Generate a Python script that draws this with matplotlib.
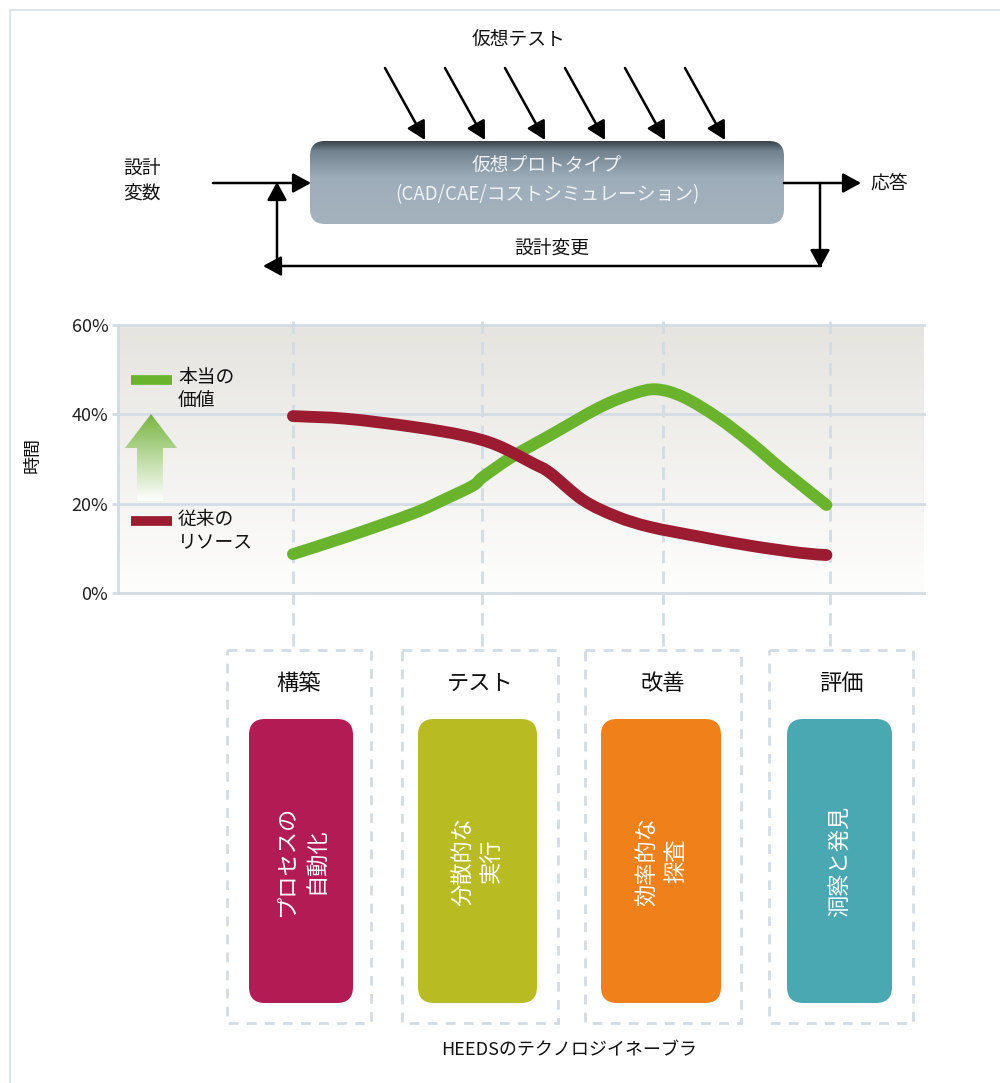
import numpy as np
import matplotlib
matplotlib.use('Agg')
import matplotlib.pyplot as plt
from matplotlib.patches import FancyBboxPatch, Polygon, Rectangle, PathPatch
from matplotlib.path import Path

plt.rcParams['font.family'] = ['Noto Sans CJK JP', 'DejaVu Sans']

# ---------------- data ----------------
stage_progress = [21.7, 45.2, 67.6, 88.3]          # progress (%) where each stage sits
value_progress = [21.7, 28.4, 36.6, 40.8, 44.1, 45.3, 49.0, 53.6, 59.8, 63.9, 66.8, 70.1, 74.3, 78.4, 82.5, 87.9]
value_pct      = [8.7, 12.6, 17.8, 21.2, 24.1, 26.0, 30.6, 35.3, 41.6, 44.6, 45.6, 43.9, 39.4, 33.8, 27.5, 19.7]
resource_progress = [21.7, 28.4, 36.6, 42.8, 47.0, 51.5, 53.6, 57.7, 61.9, 66.0, 72.2, 78.4, 84.6, 87.9]
resource_pct      = [39.6, 39.0, 37.2, 35.3, 33.1, 29.0, 26.9, 20.8, 17.1, 14.8, 12.6, 10.6, 9.0, 8.5]
y_ticks = [0, 20, 40, 60]
y_tick_labels = ['0%', '20%', '40%', '60%']
series_names = ['本当の\n価値', '従来の\nリソース']
stage_names = ['構築', 'テスト', '改善', '評価']
stage_texts = ['プロセスの\n自動化', '分散的な\n実行', '効率的な\n探査', '洞察と発見']

# ---------------- style ----------------
GREEN = '#6ab42d'
RED = '#9b1b30'
GRID = '#d3dce5'
stage_colors = ['#b31b54', '#b8bb22', '#f08019', '#49a8b2']

W, H = 1000, 1083
fig = plt.figure(figsize=(W / 100, H / 100), dpi=100)
ov = fig.add_axes([0, 0, 1, 1])
ov.axis('off')

# frame border
ov.plot([10, 10], [10, H], color='#dde4ea', lw=1.5)
ov.plot([10, W], [10, 10], color='#dde4ea', lw=1.5)

# ---------------- top diagram ----------------
ov.text(519, 40, '仮想テスト', ha='center', va='center', fontsize=13.5, color='#111')
arrow_kw = dict(arrowstyle='-|>,head_length=0.55,head_width=0.3', lw=1.8, color='black',
                shrinkA=0, shrinkB=0, mutation_scale=20)
for i in range(6):
    x0 = 385 + 60 * i
    ov.annotate('', xy=(x0 + 40, 140), xytext=(x0, 68), arrowprops=arrow_kw)

box = FancyBboxPatch((310, 141), 474, 83, boxstyle='round,pad=0,rounding_size=15',
                     facecolor='none', edgecolor='none')
ov.add_patch(box)
t = np.linspace(0, 1, 256)
stops_t = [0.0, 0.12, 0.45, 1.0]
stops_c = np.array([[0.22, 0.26, 0.29], [0.45, 0.51, 0.56], [0.62, 0.68, 0.73], [0.64, 0.70, 0.74]])
gcol = np.stack([np.interp(t, stops_t, stops_c[:, k]) for k in range(3)], axis=-1)[:, None, :]
im = ov.imshow(gcol, extent=[310, 784, 224, 141], origin='upper', aspect='auto', zorder=2)
im.set_clip_path(box)
ov.text(547, 181, '仮想プロトタイプ\n(CAD/CAE/コストシミュレーション)', ha='center', va='center',
        fontsize=13.5, color='#eef2f5', linespacing=1.45, zorder=3)

ov.text(123, 181, '設計\n変数', ha='left', va='center', fontsize=13.5, linespacing=1.3, color='#111')
ov.annotate('', xy=(311, 183), xytext=(213, 183), arrowprops=arrow_kw)
ov.annotate('', xy=(861, 183), xytext=(784, 183), arrowprops=arrow_kw)
ov.text(870, 183, '応答', ha='left', va='center', fontsize=13.5, color='#111')
ov.annotate('', xy=(820, 268), xytext=(820, 183), arrowprops=arrow_kw)
ov.annotate('', xy=(263, 266), xytext=(821, 266), arrowprops=arrow_kw)
ov.annotate('', xy=(277, 182), xytext=(277, 266), arrowprops=arrow_kw)
ov.text(552, 248, '設計変更', ha='center', va='center', fontsize=13.5, color='#111')

# ---------------- bottom stage boxes ----------------
outer = [(227, 371), (402, 558), (585, 741), (769, 913)]
inner = [(249, 353), (418, 537), (601, 721), (787, 892)]
for i in range(4):
    x0, x1 = outer[i]
    ov.add_patch(Rectangle((x0, 650), x1 - x0, 373, facecolor='none', edgecolor=GRID, lw=2,
                           linestyle=(0, (3.5, 3))))
    ov.text((x0 + x1) / 2, 683, stage_names[i], ha='center', va='center', fontsize=16, color='#111')
    a0, a1 = inner[i]
    ov.add_patch(FancyBboxPatch((a0, 719), a1 - a0, 284, boxstyle='round,pad=0,rounding_size=16',
                                facecolor=stage_colors[i], edgecolor='none'))
    ov.text((a0 + a1) / 2, 861, stage_texts[i], rotation=90, ha='center', va='center',
            multialignment='center', fontsize=16, color='white', linespacing=1.35)
ov.text(569, 1050, 'HEEDSのテクノロジイネーブラ', ha='center', va='center', fontsize=13, color='#111')

ov.set_xlim(0, W)
ov.set_ylim(H, 0)

# ---------------- line chart ----------------
ax = fig.add_axes([118 / W, 1 - 593 / H, (924 - 118) / W, (593 - 325) / H])
tt = np.linspace(0, 1, 256)[:, None, None]
btop = np.array([0.898, 0.894, 0.875]); bbot = np.array([0.995, 0.995, 0.992])
ax.imshow(btop * (1 - tt) + bbot * tt, extent=[0, 100, 0, 60], origin='upper', aspect='auto', zorder=0)
ax.set_xlim(0, 100)
ax.set_ylim(0, 60)
for v in y_ticks:
    ax.axhline(v, color=GRID, lw=2, zorder=1, clip_on=False)
for s in stage_progress:
    ax.plot([s, s], [61, -12.3], color=GRID, lw=2, linestyle=(0, (4.5, 3)), clip_on=False, zorder=1)


def spline_path(xs, ys):
    pts = np.column_stack([xs, ys]).astype(float)
    verts = [pts[0]]
    codes = [Path.MOVETO]
    n = len(pts)
    for i in range(n - 1):
        p0 = pts[i - 1] if i > 0 else pts[i]
        p1, p2 = pts[i], pts[i + 1]
        p3 = pts[i + 2] if i + 2 < n else pts[i + 1]
        verts += [p1 + (p2 - p0) / 6, p2 - (p3 - p1) / 6, p2]
        codes += [Path.CURVE4] * 3
    return Path(verts, codes)


ax.add_patch(PathPatch(spline_path(value_progress, value_pct), fill=False, edgecolor=GREEN,
                       lw=8.5, capstyle='round', joinstyle='round', zorder=3))
ax.add_patch(PathPatch(spline_path(resource_progress, resource_pct), fill=False, edgecolor=RED,
                       lw=8.5, capstyle='round', joinstyle='round', zorder=4))
for side in ['top', 'right', 'bottom']:
    ax.spines[side].set_visible(False)
ax.spines['left'].set_color(GRID)
ax.spines['left'].set_linewidth(2)
ax.set_xticks([])
ax.set_yticks(y_ticks)
ax.set_yticklabels(y_tick_labels)
ax.tick_params(axis='y', length=4, width=2, color=GRID, labelsize=13, labelcolor='#222', pad=3)

# ---------------- overlay for legend / arrow on top of chart ----------------
top = fig.add_axes([0, 0, 1, 1])
top.patch.set_alpha(0)
top.axis('off')
top.plot([131, 172], [380, 380], color=GREEN, lw=7, solid_capstyle='butt')
top.text(178, 389, series_names[0], ha='left', va='center', fontsize=13.5, linespacing=1.15, color='#111')
top.plot([131, 172], [521, 521], color=RED, lw=7, solid_capstyle='butt')
top.text(178, 531, series_names[1], ha='left', va='center', fontsize=13.5, linespacing=1.15, color='#111')
top.text(33, 455, '時間', rotation=90, ha='center', va='center', fontsize=13, color='#111')

arrow_pts = [(137, 501), (163, 501), (163, 448), (177, 448), (151, 414), (125, 448), (137, 448)]
poly = Polygon(arrow_pts, closed=True, facecolor='none', edgecolor='none')
top.add_patch(poly)
g = np.linspace(0, 1, 128)[:, None, None]
ctop = np.array([0.47, 0.71, 0.26]); cbot = np.array([1.0, 1.0, 1.0])
im2 = top.imshow(ctop * (1 - g) + cbot * g, extent=[125, 177, 501, 414], origin='upper',
                 aspect='auto', zorder=5)
im2.set_clip_path(poly)
top.set_xlim(0, W)
top.set_ylim(H, 0)

fig.savefig('out.png', dpi=100)
